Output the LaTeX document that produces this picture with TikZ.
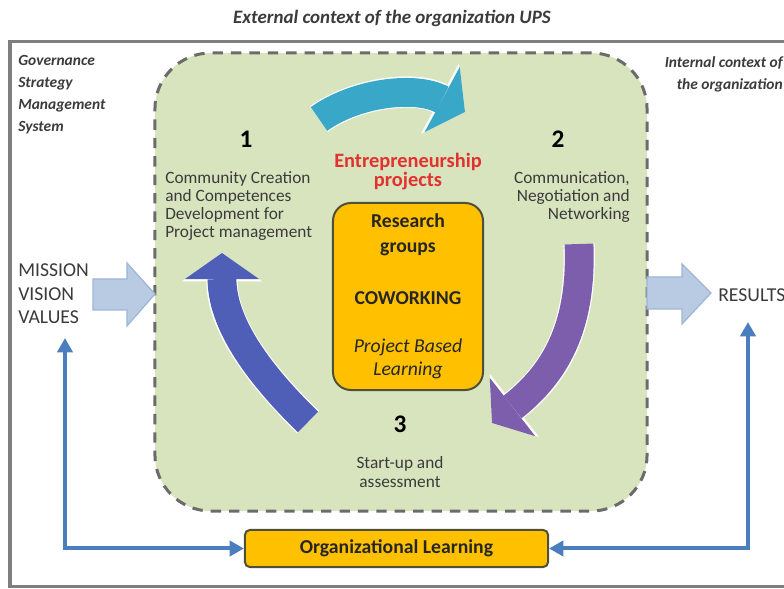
\documentclass[tikz,border=0pt]{standalone}
\usepackage{fontspec}
\setmainfont{Carlito}
\usepackage{xcolor}
\usetikzlibrary{arrows.meta}

\definecolor{framegray}{HTML}{7F7F7F}
\definecolor{sage}{HTML}{D8E4BE}
\definecolor{dashgray}{HTML}{6B6B6B}
\definecolor{amber}{HTML}{FFC000}
\definecolor{amberedge}{HTML}{4F4F3A}
\definecolor{cycteal}{HTML}{38A7C8}
\definecolor{cycviolet}{HTML}{7D5EAD}
\definecolor{cycindigo}{HTML}{4F5EB6}
\definecolor{paleblue}{HTML}{B9CBE3}
\definecolor{paleedge}{HTML}{9DB5D6}
\definecolor{linkblue}{HTML}{4A7EBE}
\definecolor{inkgray}{HTML}{3B3B3B}
\definecolor{redtxt}{HTML}{E3312F}

\begin{document}
\begin{tikzpicture}[
  x=0.025cm, y=-0.025cm,
  txt/.style={text=inkgray,inner sep=0pt,font=\fontsize{12.3}{13}\selectfont},
  caps/.style={text=inkgray,inner sep=0pt,font=\fontsize{14}{16.7}\selectfont},
  hdr/.style={text=inkgray,inner sep=0pt,font=\fontsize{11}{15.6}\selectfont\bfseries\itshape},
  num/.style={text=black,inner sep=0pt,font=\fontsize{18}{20}\selectfont\bfseries},
  boxtxt/.style={text=black!85,inner sep=0pt,font=\fontsize{14}{17.5}\selectfont},
  cyclebox/.style={draw=dashgray,fill=sage,line width=0.75mm,dash pattern=on 2.6mm off 2mm,rounded corners=14mm,minimum width=123mm,minimum height=114.5mm},
  hubbox/.style={draw=amberedge,fill=amber,line width=0.5mm,rounded corners=4.5mm,minimum width=37.5mm,minimum height=46.75mm},
  learnbox/.style={draw=amberedge,fill=amber,line width=0.5mm,rounded corners=1.2mm,minimum width=75.75mm,minimum height=9.25mm,inner sep=0pt,text=black!85,font=\fontsize{14}{16}\selectfont\bfseries},
  cycarrow/.style={line width=7.2mm,-{Triangle[length=6.5mm,width=18.5mm,line width=0pt]},
    preaction={draw=white,line width=7.8mm,-{Triangle[length=7.1mm,width=20mm,line width=0pt]}}},
  bigarrow/.style={fill=paleblue,draw=paleedge,line width=0.3mm},
  link/.style={draw=linkblue,line width=1mm,{Triangle[length=3.6mm,width=3.8mm]}-{Triangle[length=3.6mm,width=3.8mm]}}
]
  \useasboundingbox (0,0) rectangle (784,589);

  % outer frame and title
  \draw[framegray,line width=0.75mm] (10,42) rectangle (800,587);
  \node[hdr,font=\fontsize{13.5}{15}\selectfont\bfseries\itshape] (title) at (392,18) {External context of the organization UPS};
  \node[hdr,anchor=west,align=left] (gov) at (18,95) {Governance\\Strategy\\Management\\System};
  \node[hdr,anchor=east,align=right] (internal) at (783,74) {Internal context of\\the organization};

  % cycle area
  \node[cyclebox] (cycle) at (401,282) {};
  \node[hubbox] (hub) at (408,296.5) {};
  \node[boxtxt,font=\fontsize{14}{17.5}\selectfont\bfseries,align=center] (research) at (408,234.5) {Research\\groups};
  \node[boxtxt,font=\fontsize{14}{17.5}\selectfont\bfseries] (cowork) at (408,298) {COWORKING};
  \node[boxtxt,font=\fontsize{14}{16.5}\selectfont\itshape,align=center] (pbl) at (408,358.5) {Project Based\\Learning};
  \node[inner sep=0pt,text=redtxt,align=center,font=\fontsize{14.5}{13.5}\selectfont\bfseries] (entre) at (408,171.5) {Entrepreneurship\\projects};

  \node[num] (n1) at (246,139) {1};
  \node[num] (n2) at (558,139) {2};
  \node[num] (n3) at (400,424) {3};
  \node[txt,anchor=west,align=left] (step1) at (165,206) {Community Creation\\and Competences\\Development for\\Project management};
  \node[txt,anchor=east,align=right] (step2) at (630,197) {Communication,\\Negotiation and\\Networking};
  \node[txt,align=center] (step3) at (400,472) {Start-up and\\assessment};

  % cycle arrows
  \draw[cycarrow,cycteal] (319,119) .. controls (355,93) and (415,85) .. (465,112);
  \draw[cycarrow,cycviolet] (579,244) .. controls (582,320) and (560,370) .. (492,423);
  \draw[cycarrow,cycindigo] (308,422) .. controls (270,385) and (222,330) .. (222,253);

  % inputs and outputs
  \node[caps,anchor=west,align=left] (mission) at (18,294) {MISSION\\VISION\\VALUES};
  \node[caps,anchor=west] (results) at (718,295) {RESULTS};
  \draw[bigarrow] (93,279) -- (127,279) -- (127,263) -- (155,294) -- (127,326) -- (127,310) -- (93,310) -- cycle;
  \draw[bigarrow] (647,277) -- (682,277) -- (682,264) -- (711,293) -- (682,324) -- (682,309) -- (647,309) -- cycle;

  % feedback loop
  \node[learnbox] (learn) at (396.5,548.5) {Organizational Learning};
  \coordinate (mvv) at (65,338);
  \coordinate (res) at (748,322);
  \draw[link] (mvv) |- (learn.west);
  \draw[link] (res) |- (learn.east);
\end{tikzpicture}
\end{document}
